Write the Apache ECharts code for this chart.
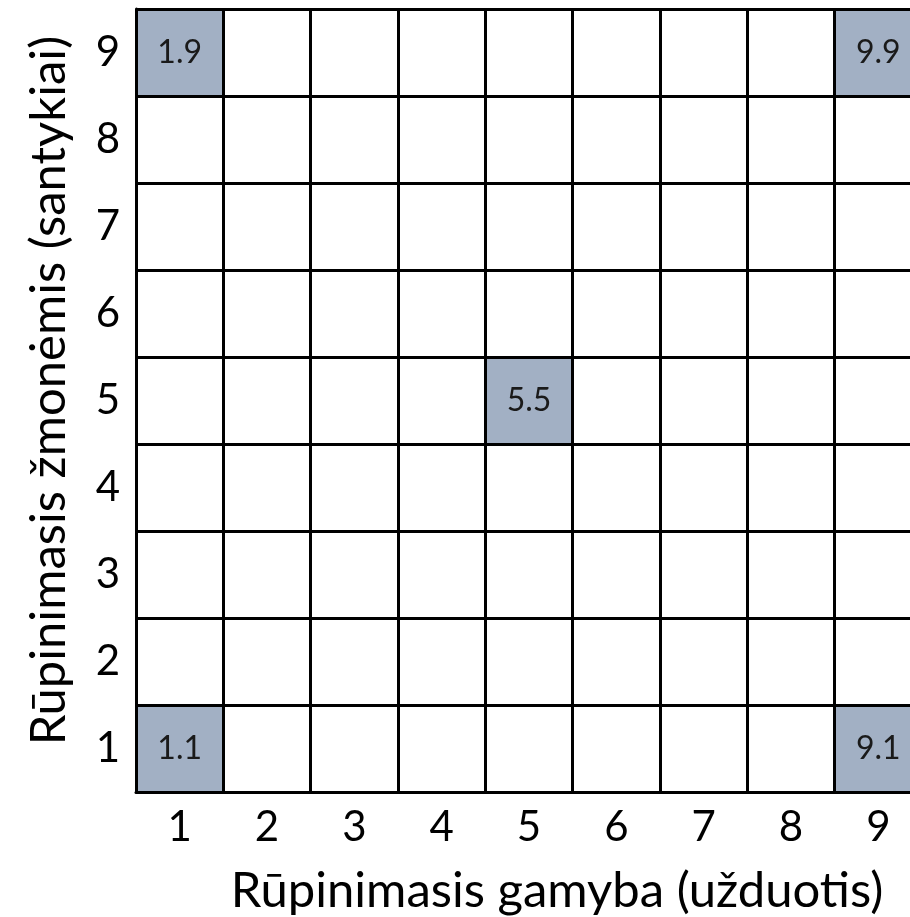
<!DOCTYPE html>
<html><head><meta charset="utf-8">
<script src="https://cdn.jsdelivr.net/npm/echarts@6/dist/echarts.min.js"></script>
<style>html,body{margin:0;padding:0;background:#fff}#c{width:910px;height:917px}</style>
</head><body><div id="c"></div>
<script>
var xCategories = ['1','2','3','4','5','6','7','8','9'];
var yCategories = ['1','2','3','4','5','6','7','8','9'];
var xTitle = 'Rūpinimasis gamyba (užduotis)';
var yTitle = 'Rūpinimasis žmonėmis (santykiai)';
// shaded cells: [x index, y index, label]
var cellX = [0, 0, 4, 8, 8];
var cellY = [0, 8, 4, 0, 8];
var cellLabels = ['1.1', '1.9', '5.5', '9.1', '9.9'];

var FONT = 'Lato';
var data = cellX.map(function (x, i) { return [x, cellY[i], cellLabels[i]]; });
var lineStyle = { color: '#000', width: 3 };
var chart = echarts.init(document.getElementById('c'), null, { renderer: 'canvas' });
chart.setOption({
  animation: false,
  backgroundColor: '#fff',
  grid: { left: 136, top: 9, width: 786, height: 783, containLabel: false, outerBoundsMode: 'none' },
  xAxis: {
    type: 'category', data: xCategories, z: 10,
    axisLine: { show: true, lineStyle: lineStyle },
    axisTick: { show: false },
    splitLine: { show: true, lineStyle: lineStyle },
    axisLabel: { fontSize: 42, fontFamily: FONT, color: '#000', margin: 14 },
    name: xTitle, nameLocation: 'middle', nameGap: 75,
    nameTextStyle: { fontSize: 49, fontFamily: FONT, color: '#000', padding: [0, 0, 0, 56] }
  },
  yAxis: {
    type: 'category', data: yCategories, z: 10,
    axisLine: { show: true, lineStyle: lineStyle },
    axisTick: { show: false },
    splitLine: { show: true, lineStyle: lineStyle },
    axisLabel: { fontSize: 42, fontFamily: FONT, color: '#000', margin: 16 },
    name: yTitle, nameLocation: 'middle', nameGap: 62,
    nameTextStyle: { fontSize: 49, fontFamily: FONT, color: '#000', padding: [0, 0, 0, 20] }
  },
  series: [{
    type: 'heatmap',
    data: data,
    itemStyle: { color: '#a2b0c4' },
    label: {
      show: true, fontSize: 32, fontFamily: FONT, color: '#1a1a1a',
      formatter: function (p) { return p.data[2]; }
    },
    emphasis: { disabled: true }
  }]
});
</script></body></html>
